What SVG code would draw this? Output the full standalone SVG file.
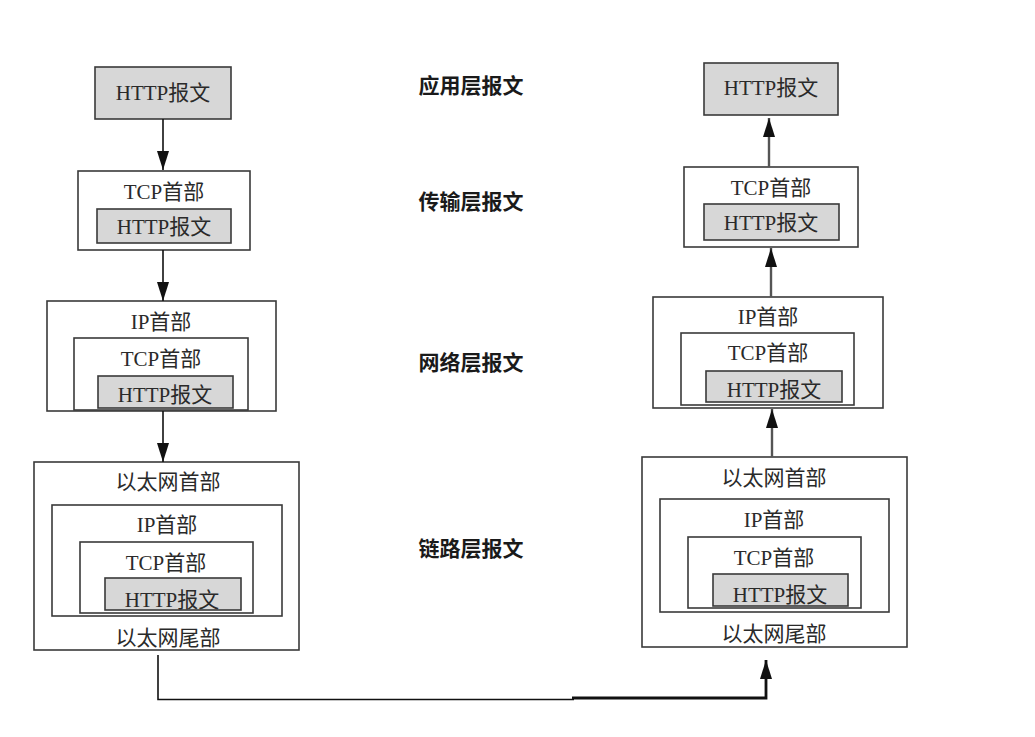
<svg xmlns="http://www.w3.org/2000/svg" width="1035" height="737" viewBox="0 0 1035 737">
<style>
.box{fill:#fff;stroke:#3a3a3a;stroke-width:1.6}
.gray{fill:#d7d7d7;stroke:#3a3a3a;stroke-width:1.6}
.t{font-family:"Liberation Serif","Noto Sans CJK SC",serif;font-size:21px;fill:#2a2a2a;text-anchor:middle}
.lbl{font-family:"Noto Sans CJK SC",sans-serif;font-size:21px;fill:#1a1a1a;text-anchor:middle;font-weight:bold}
.c{fill:none;stroke:#111;stroke-width:1.6}
.cu{fill:none;stroke:#555;stroke-width:2.4}
</style>
<defs>
<marker id="ah" markerUnits="userSpaceOnUse" markerWidth="19" markerHeight="12" refX="19" refY="6" orient="auto">
<path d="M0,0 L19,6 L0,12 z" fill="#111"/>
</marker>
</defs>
<rect width="1035" height="737" fill="#fff"/>

<g id="labels">
<text class="lbl" x="471" y="93">应用层报文</text>
<text class="lbl" x="471" y="209">传输层报文</text>
<text class="lbl" x="471" y="370">网络层报文</text>
<text class="lbl" x="471" y="556">链路层报文</text>
</g>

<g id="l_app">
<rect class="gray" x="95" y="67" width="136" height="52"/>
<text class="t" x="163" y="100">HTTP报文</text>
</g>
<g id="l_tcp">
<rect class="box" x="78" y="171" width="172" height="79"/>
<text class="t" x="164" y="199">TCP首部</text>
<rect class="gray" x="97" y="209" width="134" height="34"/>
<text class="t" x="164" y="234">HTTP报文</text>
</g>
<g id="l_ip">
<rect class="box" x="47" y="301" width="229" height="110"/>
<text class="t" x="161" y="329">IP首部</text>
<rect class="box" x="74" y="338" width="174" height="72"/>
<text class="t" x="161" y="366">TCP首部</text>
<rect class="gray" x="98" y="376" width="135" height="32"/>
<text class="t" x="165" y="402">HTTP报文</text>
</g>
<g id="l_eth">
<rect class="box" x="34" y="462" width="265" height="188"/>
<text class="t" x="168" y="489">以太网首部</text>
<rect class="box" x="52" y="505" width="230" height="111"/>
<text class="t" x="167" y="532">IP首部</text>
<rect class="box" x="80" y="542" width="173" height="71"/>
<text class="t" x="166" y="570">TCP首部</text>
<rect class="gray" x="105" y="578" width="136" height="32"/>
<text class="t" x="172" y="607">HTTP报文</text>
<text class="t" x="168" y="645">以太网尾部</text>
</g>

<g id="r_app">
<rect class="gray" x="704" y="63" width="134" height="52"/>
<text class="t" x="771" y="95">HTTP报文</text>
</g>
<g id="r_tcp">
<rect class="box" x="684" y="167" width="174" height="80"/>
<text class="t" x="771" y="195">TCP首部</text>
<rect class="gray" x="704" y="204" width="135" height="36"/>
<text class="t" x="771" y="230">HTTP报文</text>
</g>
<g id="r_ip">
<rect class="box" x="653" y="297" width="230" height="111"/>
<text class="t" x="768" y="324">IP首部</text>
<rect class="box" x="681" y="333" width="173" height="72"/>
<text class="t" x="768" y="360">TCP首部</text>
<rect class="gray" x="706" y="371" width="136" height="31"/>
<text class="t" x="774" y="397">HTTP报文</text>
</g>
<g id="r_eth">
<rect class="box" x="642" y="457" width="265" height="190"/>
<text class="t" x="774" y="485">以太网首部</text>
<rect class="box" x="660" y="499" width="229" height="113"/>
<text class="t" x="774" y="527">IP首部</text>
<rect class="box" x="688" y="537" width="173" height="71"/>
<text class="t" x="774" y="565">TCP首部</text>
<rect class="gray" x="713" y="574" width="135" height="32"/>
<text class="t" x="780" y="602">HTTP报文</text>
<text class="t" x="774" y="641">以太网尾部</text>
</g>

<g id="connectors">
<line class="c" x1="163" y1="119" x2="163" y2="170" marker-end="url(#ah)"/>
<line class="c" x1="163" y1="250" x2="163" y2="301" marker-end="url(#ah)"/>
<line class="c" x1="163" y1="411" x2="163" y2="462" marker-end="url(#ah)"/>
<line class="cu" x1="769" y1="167" x2="769" y2="118" marker-end="url(#ah)"/>
<line class="cu" x1="771" y1="297" x2="771" y2="248" marker-end="url(#ah)"/>
<line class="cu" x1="772" y1="457" x2="772" y2="409" marker-end="url(#ah)"/>
<path class="c" d="M158,655 V699.5 H574"/>
<path class="c" style="stroke-width:2.8" d="M572,698 H766 V660" marker-end="url(#ah)"/>
</g>
</svg>
